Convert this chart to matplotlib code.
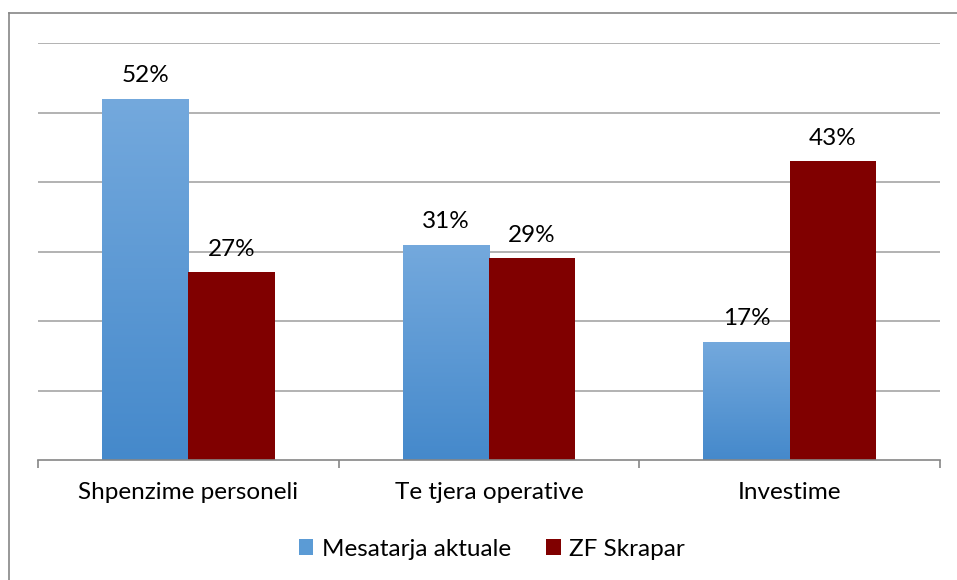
"""Grouped bar chart — expense structure, average vs ZF Skrapar."""

import matplotlib
matplotlib.use("Agg")

import matplotlib.pyplot as plt
import matplotlib.patches as mpatches
from matplotlib.colors import LinearSegmentedColormap
from matplotlib.lines import Line2D
import numpy as np

categories = ["Shpenzime personeli", "Te tjera operative", "Investime"]
series_names = ["Mesatarja aktuale", "ZF Skrapar"]
avg_values = [52, 31, 17]
skrapar_values = [27, 29, 43]

plt.rcParams["font.family"] = ["Lato", "DejaVu Sans"]

W, H = 957, 580
FS = 17.5
fig = plt.figure(figsize=(W / 100, H / 100), dpi=100)
fig.patch.set_facecolor("white")

ax = fig.add_axes([38 / W, 1 - 460 / H, (940 - 38) / W, (460 - 43) / H])

x = np.arange(len(categories))
bw = 0.287
blue_grad = LinearSegmentedColormap.from_list("bg", ["#4589CB", "#74A9DD"])
red = "#800000"

ax.set_xlim(-0.5, len(categories) - 0.5)
ax.set_ylim(0, 60)

# blue bars with vertical gradient
grad = np.linspace(0, 1, 256).reshape(-1, 1)
for xi, v in zip(x, avg_values):
    left = xi - bw
    rect = mpatches.Rectangle((left, 0), bw, v, facecolor="none", edgecolor="none")
    ax.add_patch(rect)
    im = ax.imshow(grad, cmap=blue_grad, origin="lower", aspect="auto",
                   extent=(left, left + bw, 0, v), zorder=2)
    im.set_clip_path(rect)

ax.bar(x + bw / 2, skrapar_values, width=bw, color=red, zorder=2)

for xi, v in zip(x, avg_values):
    ax.annotate(f"{v}%", (xi - bw / 2, v), xytext=(0, 9), textcoords="offset points",
                ha="center", va="bottom", fontsize=FS, color="black")
for xi, v in zip(x, skrapar_values):
    ax.annotate(f"{v}%", (xi + bw / 2, v), xytext=(0, 9), textcoords="offset points",
                ha="center", va="bottom", fontsize=FS, color="black")

ax.set_xlim(-0.5, len(categories) - 0.5)
ax.set_ylim(0, 60)

# gridlines
ax.set_yticks(np.arange(10, 61, 10))
ax.yaxis.set_tick_params(length=0, labelleft=False)
ax.grid(axis="y", color="#A6A6A6", linewidth=1.2, zorder=0)
ax.set_axisbelow(True)

for s in ["top", "right", "left"]:
    ax.spines[s].set_visible(False)
ax.spines["bottom"].set_color("#868686")
ax.spines["bottom"].set_linewidth(1.2)

ax.set_xticks(x)
ax.set_xticklabels(categories, fontsize=FS)
ax.tick_params(axis="x", which="major", length=0, pad=16)
ax.set_xticks(np.arange(-0.5, len(categories), 1.0), minor=True)
ax.tick_params(axis="x", which="minor", length=6, color="#868686", width=1.2)

handles = [mpatches.Patch(facecolor="#5B9BD5", label=series_names[0]),
           mpatches.Patch(facecolor=red, label=series_names[1])]
fig.legend(handles=handles, loc="center", bbox_to_anchor=(492 / W, 1 - 549 / H), ncol=2,
           frameon=False, fontsize=FS, handlelength=0.6, handleheight=0.6,
           handletextpad=0.35, columnspacing=1.45)

# outer chart border (top and left edges visible)
fig.add_artist(Line2D([9 / W, 1], [1 - 13 / H, 1 - 13 / H], color="#868686", linewidth=1.2))
fig.add_artist(Line2D([9 / W, 9 / W], [0, 1 - 13 / H], color="#868686", linewidth=1.2))

fig.savefig("out.png", dpi=100, facecolor="white")
